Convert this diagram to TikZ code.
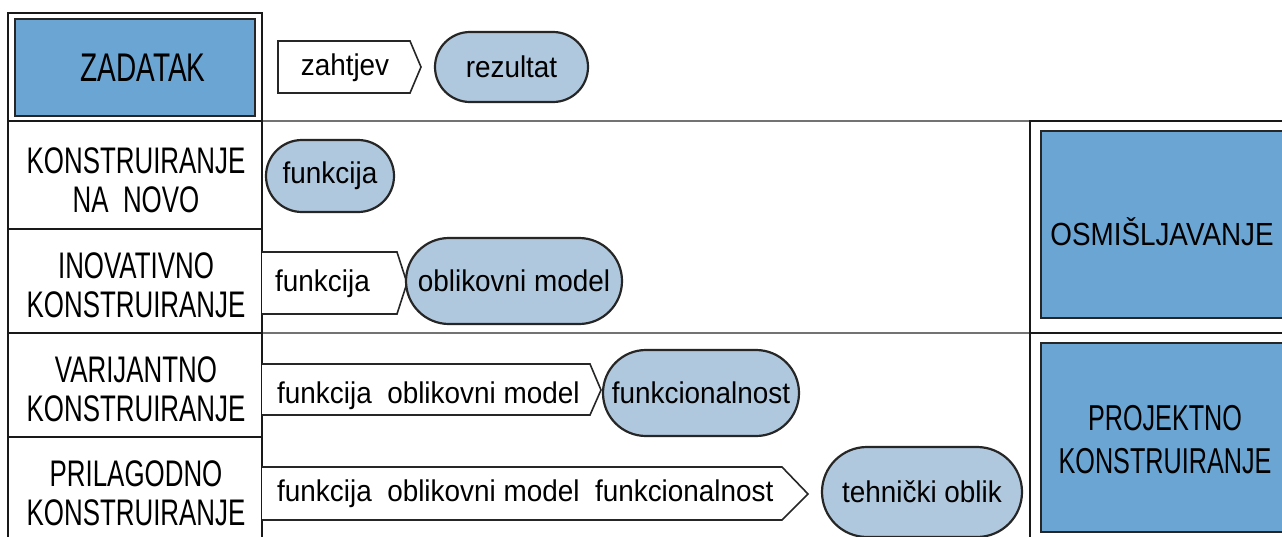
\documentclass[tikz,border=0pt]{standalone}
\usepackage{fontspec}
\setmainfont{Liberation Sans}
\newfontfamily\capsfont[FakeStretch=0.70]{Liberation Sans}
\newfontfamily\lowfont[FakeStretch=0.93]{Liberation Sans}
\newfontfamily\geofont[FakeStretch=0.87]{Liberation Sans}
\usetikzlibrary{shapes.misc}
\definecolor{bluebox}{RGB}{106,165,211}
\definecolor{pillblue}{RGB}{176,200,222}
\definecolor{rulegray}{RGB}{115,115,115}
\begin{document}
\begin{tikzpicture}[x=1pt,y=-1pt,
  frame/.style={draw=black!90,line width=2pt},
  bluebx/.style={draw=black!85,line width=2pt,fill=bluebox},
  pill/.style={rounded rectangle,draw=black!85,line width=2.2pt,fill=pillblue,inner sep=0pt,font=\lowfont\fontsize{30}{30}\selectfont},
  sig/.style={draw=black!85,line width=1.6pt,fill=white},
  lowtext/.style={font=\lowfont\fontsize{30}{30}\selectfont,inner sep=0pt},
  captext/.style={font=\capsfont\fontsize{37}{39}\selectfont,align=center,inner sep=0pt},
  rulel/.style={draw=rulegray,line width=1.5pt}]
\useasboundingbox (0,0) rectangle (1282,536);
\fill[white] (0,0) rectangle (1282,536);

% gray rules
\draw[rulel] (262,121) -- (1030,121);
\draw[rulel] (262,333) -- (1030,333);

% left column
\draw[frame] (8,13) rectangle (262,121);
\draw[bluebx] (15,19) rectangle (255,116);
\node[font=\capsfont\fontsize{40}{40}\selectfont,inner sep=0pt] (zad) at (143,68) {ZADATAK};

\draw[frame] (8,121) rectangle (262,229);
\draw[frame] (8,229) rectangle (262,333);
\draw[frame] (8,333) rectangle (262,437);
\draw[frame] (8,437) rectangle (262,545);
\node[captext] (r1) at (136,180) {KONSTRUIRANJE\\NA~~NOVO};
\node[captext] (r2) at (136,285) {INOVATIVNO\\KONSTRUIRANJE};
\node[captext] (r3) at (136,389) {VARIJANTNO\\KONSTRUIRANJE};
\node[captext] (r4) at (136,493) {PRILAGODNO\\KONSTRUIRANJE};

% row 0
\draw[sig] (278,41) -- (410,41) -- (421,67) -- (410,93) -- (278,93) -- cycle;
\node[lowtext] (zah) at (345,68) {zahtjev};
\node[pill,minimum width=153pt,minimum height=70pt] (rez) at (511.5,67) {rezultat};

% row 1
\node[pill,minimum width=128pt,minimum height=72pt] (f1) at (330,176) {funkcija};

% row 2
\draw[sig] (262,252) -- (397,252) -- (407,283) -- (397,314) -- (262,314);
\node[lowtext,anchor=west] (f2) at (275,284) {funkcija};
\node[pill,minimum width=216pt,minimum height=86pt] (om2) at (514,281) {oblikovni model};

% row 3
\draw[sig] (262,364) -- (590,364) -- (601,390) -- (590,415) -- (262,415);
\node[lowtext,anchor=west] (f3) at (277,396) {funkcija~~oblikovni model};
\node[pill,minimum width=196pt,minimum height=86pt] (fn3) at (701,393) {funkcionalnost};

% row 4
\draw[sig] (262,467) -- (782,467) -- (808,494) -- (782,520) -- (262,520);
\node[lowtext,anchor=west] (f4) at (277,494) {funkcija~~oblikovni model~~funkcionalnost};
\node[pill,minimum width=200pt,minimum height=90pt] (to4) at (922,492) {tehnički oblik};

% right column
\draw[frame] (1030,545) -- (1030,121) -- (1290,121);
\draw[frame] (1030,333) -- (1290,333);
\draw[bluebx] (1041,131) rectangle (1295,318);
\draw[bluebx] (1041,343) rectangle (1295,532);
\node[font=\geofont\fontsize{32}{32}\selectfont,inner sep=0pt] (osm) at (1162,232) {OSMIŠLJAVANJE};
\node[font=\capsfont\fontsize{36}{43}\selectfont,align=center,inner sep=0pt] (pro) at (1165,440) {PROJEKTNO\\KONSTRUIRANJE};
\end{tikzpicture}
\end{document}
